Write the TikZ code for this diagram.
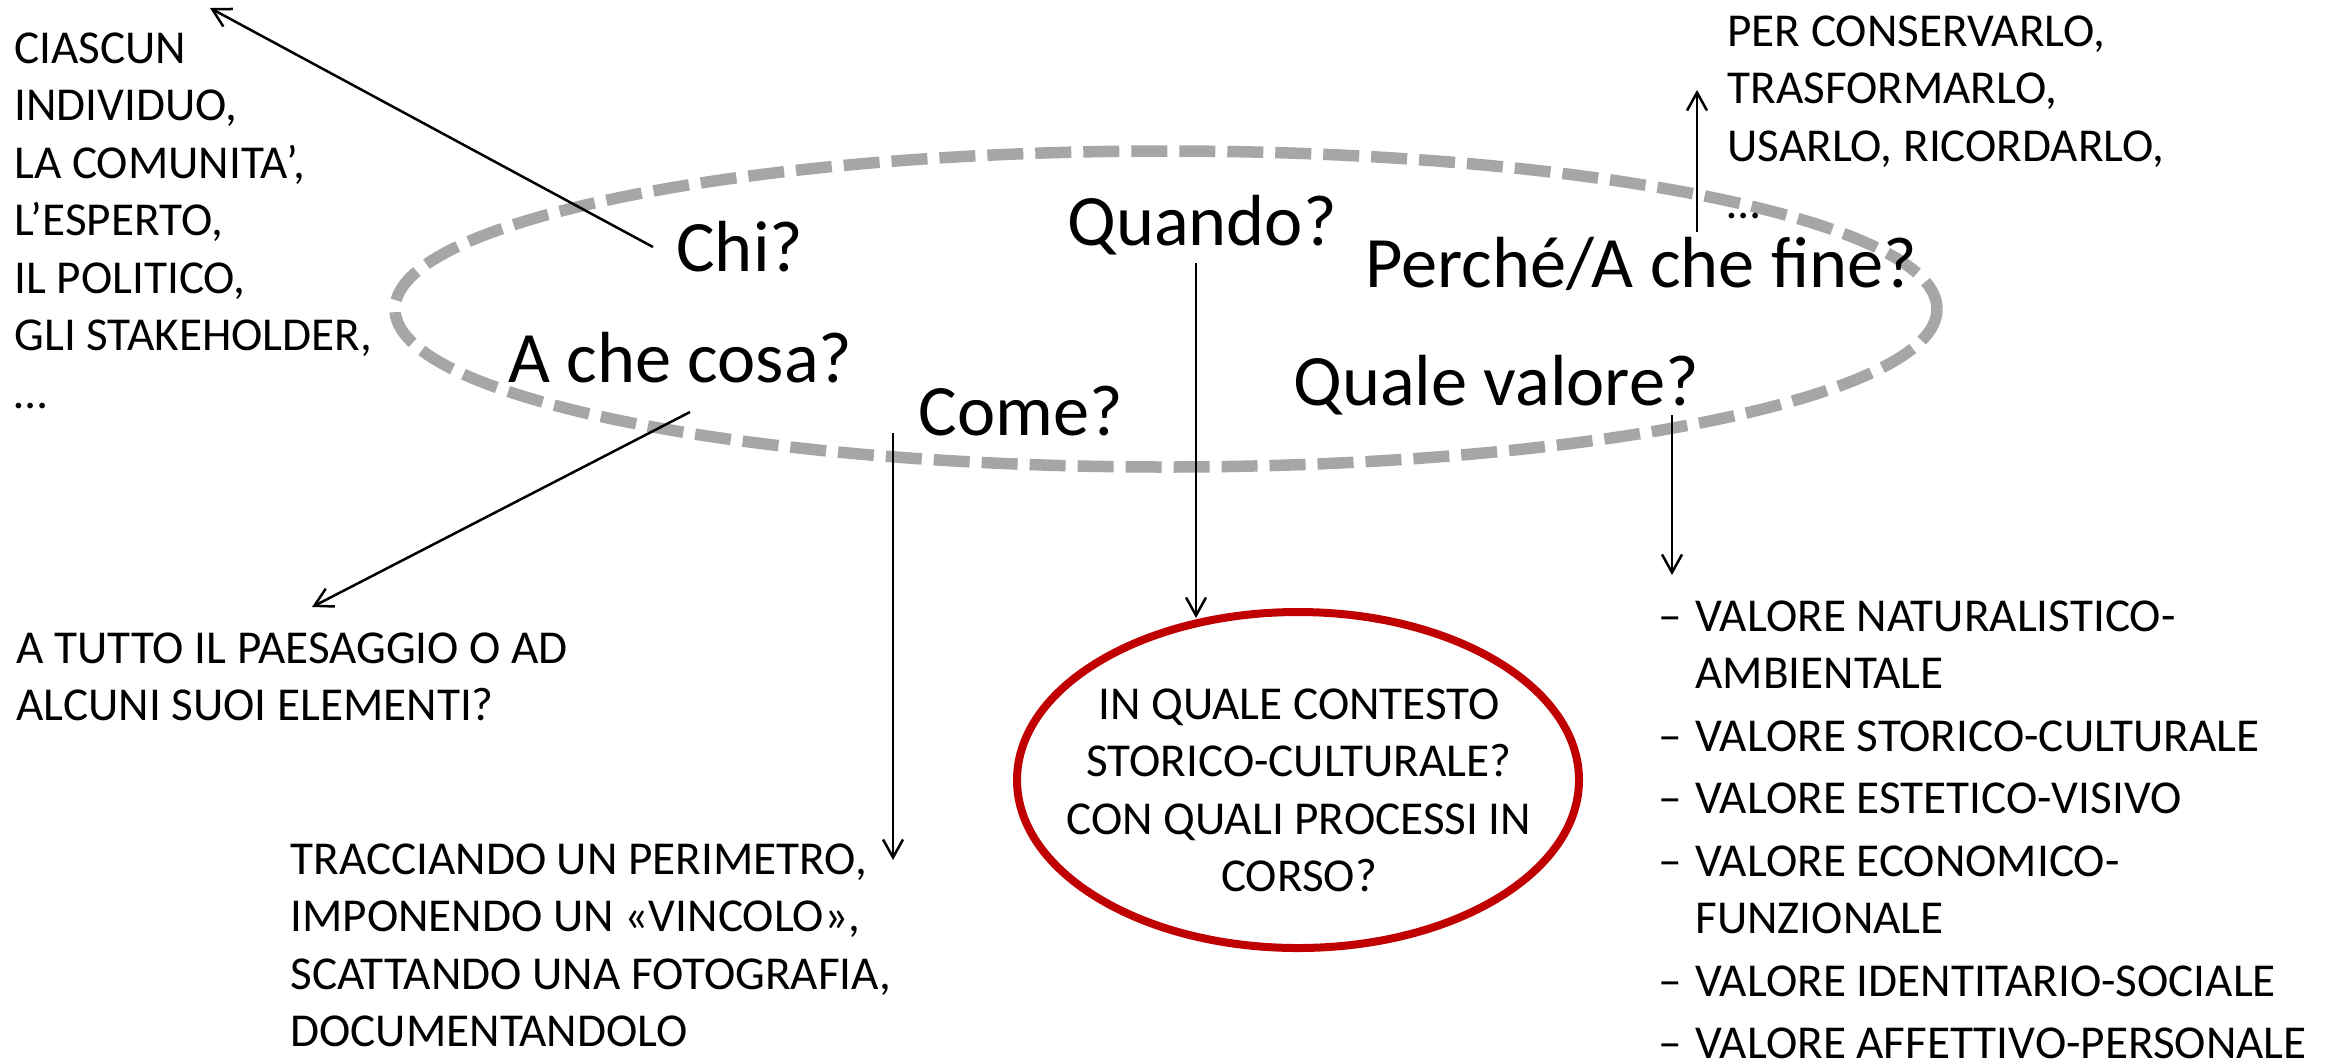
\documentclass[tikz,border=0pt]{standalone}
\usepackage{fontspec}
\setmainfont{Carlito}
\usetikzlibrary{arrows.meta,shapes.geometric}
\definecolor{ringgray}{RGB}{166,166,166}
\definecolor{ringred}{RGB}{192,0,0}
\begin{document}
\begin{tikzpicture}[x=0.5pt,y=-0.5pt,
  bigq/.style={font=\fontsize{36.2}{43}\selectfont, inner sep=0pt, anchor=base west},
  smalltxt/.style={font=\fontsize{23.6}{28.75}\selectfont, inner sep=0pt, align=left, anchor=north west},
  arr/.style={line width=1.25pt, -{Straight Barb[length=9pt,width=10pt,line width=1.25pt]}}]
\useasboundingbox[fill=white] (0,0) rectangle (2338,1062);

% dashed gray ring
\draw[ringgray, line width=5.75pt, dash pattern=on 18pt off 6pt] (1166,309) ellipse [x radius=771, y radius=158];

% red ellipse
\node[ellipse, draw=ringred, line width=4pt, minimum width=281pt, minimum height=168pt, inner sep=0pt] (ctx) at (1298,780) {};
\node[font=\fontsize{23.6}{28.75}\selectfont, inner sep=0pt, align=center, anchor=north] (ctxtext) at (1299,688)
  {IN QUALE CONTESTO\\STORICO-CULTURALE?\\CON QUALI PROCESSI IN\\CORSO?};

% questions
\node[bigq] (chi) at (676,271) {Chi?};
\node[bigq] (cosa) at (508,382) {A che cosa?};
\node[bigq] (quando) at (1067,245) {Quando?};
\node[bigq] (come) at (918,435) {Come?};
\node[bigq] (perche) at (1365,287) {Perché/A che fine?};
\node[bigq] (valore) at (1293,405) {Quale valore?};

% answers
\node[smalltxt] (chians) at (14,32) {CIASCUN\\INDIVIDUO,\\LA COMUNITA’,\\L’ESPERTO,\\IL POLITICO,\\GLI STAKEHOLDER,\\…};
\node[smalltxt] (perans) at (1727,15) {PER CONSERVARLO,\\TRASFORMARLO,\\USARLO, RICORDARLO,\\…};
\node[smalltxt] (cosaans) at (16,632) {A TUTTO IL PAESAGGIO O AD\\ALCUNI SUOI ELEMENTI?};
\node[smalltxt] (comeans) at (290,843) {TRACCIANDO UN PERIMETRO,\\IMPONENDO UN «VINCOLO»,\\SCATTANDO UNA FOTOGRAFIA,\\DOCUMENTANDOLO};
\node[smalltxt] (valans) at (1658,600) {%
\makebox[18.5pt][l]{–}VALORE NATURALISTICO-\\
\hspace*{18.5pt}AMBIENTALE\\[2.5pt]
\makebox[18.5pt][l]{–}VALORE STORICO-CULTURALE\\[2.5pt]
\makebox[18.5pt][l]{–}VALORE ESTETICO-VISIVO\\[2.5pt]
\makebox[18.5pt][l]{–}VALORE ECONOMICO-\\
\hspace*{18.5pt}FUNZIONALE\\[2.5pt]
\makebox[18.5pt][l]{–}VALORE IDENTITARIO-SOCIALE\\[2.5pt]
\makebox[18.5pt][l]{–}VALORE AFFETTIVO-PERSONALE};

% arrow end points
\coordinate (chiS) at (653,247);   \coordinate (chiE) at (210,8);
\coordinate (cosaS) at (690,412);  \coordinate (cosaE) at (312,607);
\coordinate (comeS) at (893,433);  \coordinate (comeE) at (893,860);
\coordinate (quandoS) at (1196,263); \coordinate (quandoE) at (1196,618);
\coordinate (valS) at (1672,415);  \coordinate (valE) at (1672,575);
\coordinate (perS) at (1697,232);  \coordinate (perE) at (1697,90);

\draw[arr] (chiS) -- (chiE);
\draw[arr] (cosaS) -- (cosaE);
\draw[arr] (comeS) -- (comeE);
\draw[arr] (quandoS) -- (quandoE);
\draw[arr] (valS) -- (valE);
\draw[arr] (perS) -- (perE);
\end{tikzpicture}
\end{document}
